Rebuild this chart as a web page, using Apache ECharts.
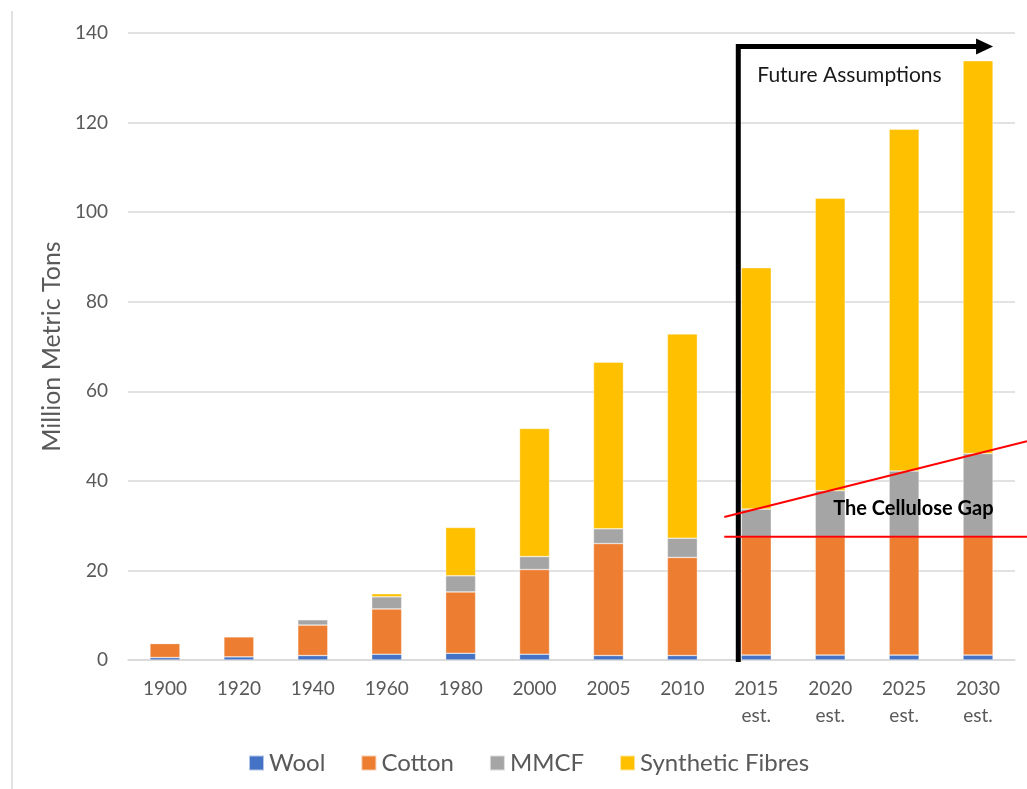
<!DOCTYPE html>
<html>
<head>
<meta charset="utf-8">
<title>Global fibre production</title>
<script src="https://cdn.jsdelivr.net/npm/echarts@6/dist/echarts.min.js"></script>
<style>
  html, body { margin: 0; padding: 0; background: #ffffff; }
  #chart { width: 1027px; height: 789px; }
</style>
</head>
<body>
<div id="chart"></div>
<script>
// Fibre production by type, million metric tons
const categories = ['1900', '1920', '1940', '1960', '1980', '2000', '2005', '2010',
                    '2015\nest.', '2020\nest.', '2025\nest.', '2030\nest.'];
const wool      = [0.55, 0.7, 1.0, 1.3, 1.5, 1.3, 1.0, 1.0, 1.1, 1.1, 1.1, 1.1];
const cotton    = [3.15, 4.5, 6.8, 10.1, 13.7, 18.9, 25.0, 21.9, 26.4, 26.4, 26.4, 26.4];
const mmcf      = [0, 0, 1.2, 2.7, 3.6, 2.9, 3.3, 4.3, 6.2, 10.3, 14.7, 18.6];
const synthetic = [0, 0, 0, 0.7, 10.8, 28.6, 37.2, 45.6, 53.9, 65.3, 76.3, 87.7];
const yTicks    = { min: 0, max: 140, interval: 20 };

const FONT = 'Lato, "Liberation Sans", sans-serif';
const TEXT_GREY = '#595959';
const GRID_GREY = '#d9d9d9';

const chart = echarts.init(document.getElementById('chart'), null, { renderer: 'canvas' });

function barSeries(name, data, color) {
  return {
    name: name,
    type: 'bar',
    stack: 'fibres',
    barWidth: 30,
    data: data,
    itemStyle: { color: color, borderColor: 'rgba(255,255,255,0.6)', borderWidth: 0.6 },
    emphasis: { disabled: true }
  };
}

chart.setOption({
  animation: false,
  backgroundColor: '#ffffff',
  textStyle: { fontFamily: FONT },
  grid: { left: 128, right: 12, top: 33, bottom: 129, containLabel: false },
  legend: {
    left: 243,
    top: 746,
    icon: 'rect',
    itemWidth: 15,
    itemHeight: 15,
    itemGap: 35,
    textStyle: { fontFamily: FONT, fontSize: 24, color: TEXT_GREY },
    data: ['Wool', 'Cotton', 'MMCF', 'Synthetic Fibres']
  },
  xAxis: {
    type: 'category',
    data: categories,
    axisLine: { lineStyle: { color: GRID_GREY, width: 1.5 } },
    axisTick: { show: false },
    axisLabel: {
      color: TEXT_GREY, fontFamily: FONT, fontSize: 19, lineHeight: 27, margin: 15, interval: 0
    }
  },
  yAxis: {
    type: 'value',
    min: yTicks.min,
    max: yTicks.max,
    interval: yTicks.interval,
    name: 'Million Metric Tons',
    nameLocation: 'middle',
    nameRotate: 90,
    nameGap: 60,
    nameTextStyle: { color: TEXT_GREY, fontFamily: FONT, fontSize: 25 },
    axisLine: { show: false },
    axisTick: { show: false },
    axisLabel: { color: TEXT_GREY, fontFamily: FONT, fontSize: 19, margin: 20 },
    splitLine: { lineStyle: { color: GRID_GREY, width: 1.5 } }
  },
  series: [
    barSeries('Wool', wool, '#4472C4'),
    barSeries('Cotton', cotton, '#ED7D31'),
    barSeries('MMCF', mmcf, '#A5A5A5'),
    barSeries('Synthetic Fibres', synthetic, '#FFC000')
  ]
});

// Annotation overlay: future-projection bracket and the cellulose gap lines
const W = chart.getWidth();
const xAt = (i) => chart.convertToPixel({ xAxisIndex: 0 }, categories[i]);
const yAt = (v) => chart.convertToPixel({ yAxisIndex: 0 }, v);
const half = 15;

const firstEst = 8, lastEst = 11;
const bracketX = xAt(firstEst) - half - 3;
const bracketTop = yAt(137);
const baseY = yAt(0) + 2;
const tipX = xAt(lastEst) + half;
const headLen = 17, headHalf = 8;

// Cellulose gap: flat cotton level and the rising cotton+MMCF level
const cottonTop = wool[firstEst] + cotton[firstEst];
const flatY = yAt(cottonTop);
const p1 = [xAt(firstEst), yAt(wool[firstEst] + cotton[firstEst] + mmcf[firstEst])];
const p2 = [xAt(lastEst), yAt(wool[lastEst] + cotton[lastEst] + mmcf[lastEst])];
const slope = (p2[1] - p1[1]) / (p2[0] - p1[0]);
const gapStartX = xAt(firstEst) - 32;
const yOnSlope = (x) => p1[1] + (x - p1[0]) * slope;

chart.setOption({
  graphic: [
    // chart frame edge on the left
    { type: 'line', shape: { x1: 12, y1: 11, x2: 12, y2: 789 },
      style: { stroke: GRID_GREY, lineWidth: 1.5 }, silent: true },
    // bracket marking projected years
    { type: 'polyline', shape: { points: [[bracketX, baseY], [bracketX, bracketTop], [tipX - headLen + 2, bracketTop]] },
      style: { stroke: '#000000', lineWidth: 5, fill: null, lineJoin: 'miter' }, silent: true, z: 10 },
    { type: 'polygon', shape: { points: [[tipX - headLen, bracketTop - headHalf], [tipX, bracketTop], [tipX - headLen, bracketTop + headHalf]] },
      style: { fill: '#000000' }, silent: true, z: 10 },
    { type: 'text', left: bracketX + 19, top: 65,
      style: { text: 'Future Assumptions', fill: '#1a1a1a', font: '21px ' + FONT }, silent: true, z: 10 },
    // cellulose gap lines
    { type: 'line', shape: { x1: gapStartX, y1: flatY, x2: W, y2: flatY },
      style: { stroke: '#FF0000', lineWidth: 2 }, silent: true, z: 10 },
    { type: 'line', shape: { x1: gapStartX, y1: yOnSlope(gapStartX), x2: W, y2: yOnSlope(W) },
      style: { stroke: '#FF0000', lineWidth: 2 }, silent: true, z: 10 },
    { type: 'text', left: xAt(9) + 3, top: 499,
      style: { text: 'The Cellulose Gap', fill: '#000000', font: 'bold 20px ' + FONT }, silent: true, z: 10 }
  ]
});
</script>
</body>
</html>
